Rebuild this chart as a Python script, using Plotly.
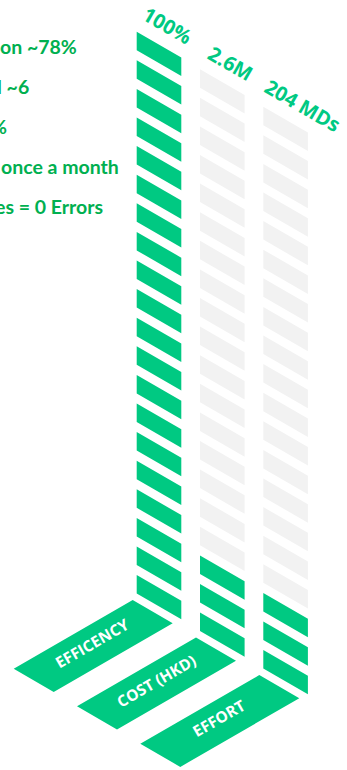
import math
import plotly.graph_objects as go

# ---------------- data ----------------
categories = ["EFFICENCY", "COST (HKD)", "EFFORT"]
value_labels = ["100%", "2.6M", "204 MDs"]
filled_segments = [20, 3, 3]
total_segments = [20, 20, 20]
notes = ["ion ~78%", "l ~6", "%", "once a month", "es = 0 Errors"]

# ---------------- layout / style constants ----------------
W, H = 347, 770
GREEN = "#00C982"
GRAY = "#F2F2F2"
TEXT_GREEN = "#00B050"
T30 = math.tan(math.radians(30))

COL_X0, COL_Y0 = 136.7, 31.7          # top-left of first column
COL_DX, COL_DY = 63.3, 37.5           # isometric step between columns
SEG_W, SEG_H, SEG_PITCH = 44.6, 18.5, 28.6
PLATE_OFF = (-4.0, 6.5)
PLATE_SHORT, PLATE_LONG = 40.0, 119.0

note_right_x = [79, 31, 8.5, 121, 104.5]
note_y0, note_step = 46.7, 40.0

gx, gy, sx, sy, px, py = [], [], [], [], [], []
annotations = []
c30, s30 = math.cos(math.radians(30)), math.sin(math.radians(30))

for i, cat in enumerate(categories):
    x0 = COL_X0 + COL_DX * i
    y0 = COL_Y0 + COL_DY * i
    n = total_segments[i]
    for k in range(n):
        yt = y0 + k * SEG_PITCH
        xs = [x0, x0 + SEG_W, x0 + SEG_W, x0, x0]
        ys = [yt, yt + SEG_W * T30, yt + SEG_W * T30 + SEG_H, yt + SEG_H, yt]
        if k >= n - filled_segments[i]:
            gx += xs + [None]; gy += ys + [None]
        else:
            sx += xs + [None]; sy += ys + [None]
    # base plate
    yb = y0 + (n - 1) * SEG_PITCH + SEG_H
    cx, cy = x0 + PLATE_OFF[0], yb + PLATE_OFF[1]
    v = [(cx, cy),
         (cx + PLATE_SHORT, cy + PLATE_SHORT * T30),
         (cx + PLATE_SHORT - PLATE_LONG, cy + (PLATE_SHORT + PLATE_LONG) * T30),
         (cx - PLATE_LONG, cy + PLATE_LONG * T30)]
    px += [p[0] for p in v] + [v[0][0], None]
    py += [p[1] for p in v] + [v[0][1], None]
    mx = sum(p[0] for p in v) / 4
    my = sum(p[1] for p in v) / 4
    annotations.append(dict(x=mx - 1, y=my - 3, xref="x", yref="y", text=cat,
                            showarrow=False, textangle=-30,
                            font=dict(family="Open Sans", size=15.5, color="white", weight="bold"),
                            xanchor="center", yanchor="middle"))
    # value label on top
    u = 10.7 + 6.5 * len(value_labels[i]) / 2
    vv = 20.5
    lx = x0 + u * c30 + vv * s30
    ly = y0 + u * s30 - vv * c30
    annotations.append(dict(x=lx, y=ly, xref="x", yref="y", text=value_labels[i],
                            showarrow=False, textangle=30,
                            font=dict(family="Open Sans", size=20, color=GREEN, weight="bold"),
                            xanchor="center", yanchor="middle"))

for j, t in enumerate(notes):
    annotations.append(dict(x=note_right_x[j], y=note_y0 + note_step * j, xref="x", yref="y",
                            text=t, showarrow=False, xanchor="right", yanchor="middle",
                            font=dict(family="Lato", size=19.5, color=TEXT_GREEN, weight="bold")))

fig = go.Figure()
fig.add_trace(go.Scatter(x=sx, y=sy, fill="toself", fillcolor=GRAY, mode="lines",
                         line=dict(width=0, color=GRAY), hoverinfo="skip"))
fig.add_trace(go.Scatter(x=gx, y=gy, fill="toself", fillcolor=GREEN, mode="lines",
                         line=dict(width=0, color=GREEN), hoverinfo="skip"))
fig.add_trace(go.Scatter(x=px, y=py, fill="toself", fillcolor=GREEN, mode="lines",
                         line=dict(width=0, color=GREEN), hoverinfo="skip"))

fig.update_layout(
    width=W, height=H, autosize=False,
    margin=dict(l=0, r=0, t=0, b=0),
    paper_bgcolor="white", plot_bgcolor="white",
    showlegend=False,
    xaxis=dict(range=[0, W], visible=False, fixedrange=True),
    yaxis=dict(range=[H, 0], visible=False, fixedrange=True),
    annotations=annotations,
)
fig.write_html("out.html", config={"displayModeBar": False},
               post_script="document.body.style.margin='0';document.body.style.overflow='hidden';")
